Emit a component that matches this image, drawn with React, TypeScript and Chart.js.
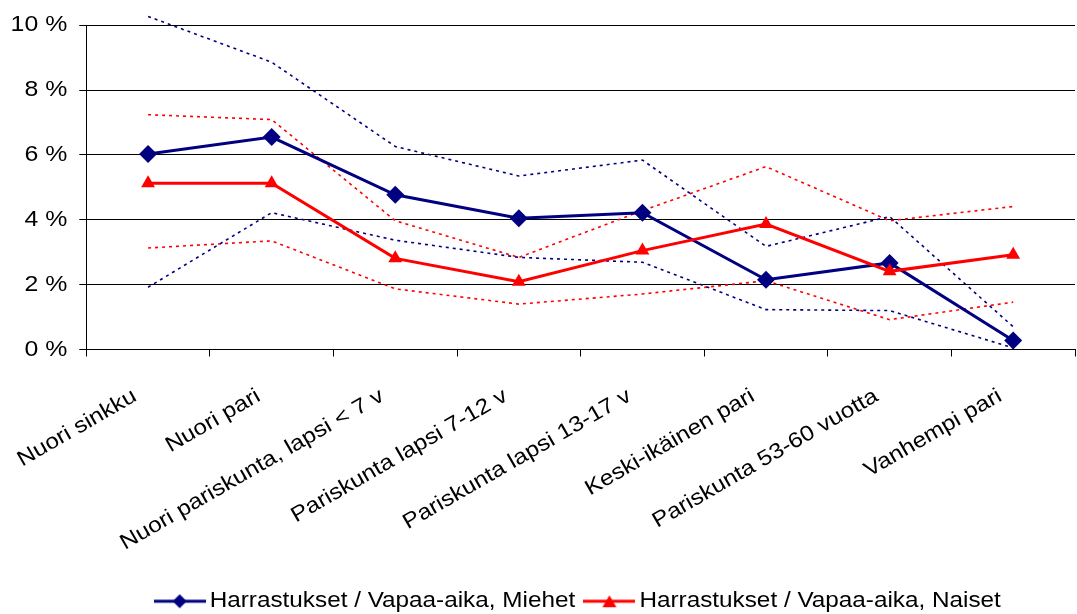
import React, { useEffect, useRef } from "react";
import { Chart, registerables } from "chart.js";

Chart.register(...registerables);

const categories = [
  "Nuori sinkku",
  "Nuori pari",
  "Nuori pariskunta, lapsi < 7 v",
  "Pariskunta lapsi 7-12 v",
  "Pariskunta lapsi 13-17 v",
  "Keski-ikäinen pari",
  "Pariskunta 53-60 vuotta",
  "Vanhempi pari",
];

const miehet = [6.03, 6.55, 4.77, 4.05, 4.22, 2.15, 2.67, 0.28];
const naiset = [5.13, 5.13, 2.81, 2.09, 3.05, 3.87, 2.41, 2.92];
const miehetYla = [10.27, 8.86, 6.26, 5.35, 5.84, 3.18, 4.1, 0.7];
const miehetAla = [1.92, 4.22, 3.37, 2.84, 2.69, 1.23, 1.2, 0.05];
const naisetYla = [7.24, 7.09, 3.97, 2.84, 4.28, 5.64, 3.97, 4.41];
const naisetAla = [3.13, 3.35, 1.87, 1.4, 1.71, 2.12, 0.92, 1.46];

const yTicks = [0, 2, 4, 6, 8, 10];

const labelMiehet = "Harrastukset / Vapaa-aika, Miehet";
const labelNaiset = "Harrastukset / Vapaa-aika, Naiset";

const NAVY = "#000080";
const RED = "#FF0000";
const FONT = "'Liberation Sans', Arial, sans-serif";
const FONT_SIZE = 21.5;
const TEXT_STRETCH = 1.13;

function legendImage(color: string, kind: "diamond" | "triangle") {
  const c = document.createElement("canvas");
  c.width = 52;
  c.height = 18;
  const ctx = c.getContext("2d")!;
  ctx.strokeStyle = color;
  ctx.fillStyle = color;
  ctx.lineWidth = 3;
  ctx.beginPath();
  ctx.moveTo(0, 9);
  ctx.lineTo(52, 9);
  ctx.stroke();
  ctx.beginPath();
  if (kind === "diamond") {
    ctx.moveTo(26, 2);
    ctx.lineTo(33, 9);
    ctx.lineTo(26, 16);
    ctx.lineTo(19, 9);
  } else {
    ctx.moveTo(26, 3);
    ctx.lineTo(33, 15);
    ctx.lineTo(19, 15);
  }
  ctx.closePath();
  ctx.fill();
  return c;
}

function stretchText(ctx: any, k: number) {
  const origFill = ctx.fillText.bind(ctx);
  const origMeasure = ctx.measureText.bind(ctx);
  ctx.fillText = (t: string, x: number, y: number, mw?: number) => {
    ctx.save();
    ctx.translate(x, y);
    ctx.scale(k, 1);
    if (mw !== undefined) origFill(t, 0, 0, mw / k);
    else origFill(t, 0, 0);
    ctx.restore();
  };
  ctx.measureText = (t: string) => {
    const m = origMeasure(t);
    return {
      width: m.width * k,
      actualBoundingBoxAscent: m.actualBoundingBoxAscent,
      actualBoundingBoxDescent: m.actualBoundingBoxDescent,
      actualBoundingBoxLeft: m.actualBoundingBoxLeft * k,
      actualBoundingBoxRight: m.actualBoundingBoxRight * k,
      fontBoundingBoxAscent: m.fontBoundingBoxAscent,
      fontBoundingBoxDescent: m.fontBoundingBoxDescent,
    };
  };
}

export default function App() {
  const ref = useRef<HTMLCanvasElement>(null);

  useEffect(() => {
    if (!ref.current) return;
    const ctx2d = ref.current.getContext("2d");
    stretchText(ctx2d, TEXT_STRETCH);
    const imgM = legendImage(NAVY, "diamond");
    const imgN = legendImage(RED, "triangle");
    const dashed = (data: number[], color: string, order: number) => ({
      label: "",
      data,
      borderColor: color,
      backgroundColor: color,
      borderWidth: 1.6,
      borderDash: [3, 4],
      pointRadius: 0,
      fill: false,
      tension: 0,
      clip: false as const,
      order,
    });
    const chart = new Chart(ref.current, {
      type: "line",
      data: {
        labels: categories,
        datasets: [
          {
            label: labelMiehet,
            data: miehet,
            borderColor: NAVY,
            backgroundColor: NAVY,
            borderWidth: 3,
            pointStyle: "rectRot",
            pointRadius: 9,
            pointBackgroundColor: NAVY,
            pointBorderColor: NAVY,
            pointBorderWidth: 0,
            order: 1,
          },
          {
            label: labelNaiset,
            data: naiset,
            borderColor: RED,
            backgroundColor: RED,
            borderWidth: 3,
            pointStyle: "triangle",
            pointRadius: 8,
            pointBackgroundColor: RED,
            pointBorderColor: RED,
            pointBorderWidth: 0,
            order: 0,
          },
          dashed(miehetYla, NAVY, 2),
          dashed(miehetAla, NAVY, 3),
          dashed(naisetYla, RED, 4),
          dashed(naisetAla, RED, 5),
        ],
      },
      options: {
        responsive: false,
        animation: false,
        devicePixelRatio: 1,
        layout: { padding: { top: 24, left: 0, right: 0, bottom: 0 } },
        plugins: {
          tooltip: { enabled: false },
          legend: {
            position: "bottom",
            fullSize: false,
            labels: {
              usePointStyle: true,
              pointStyleWidth: 38.5,
              color: "#000",
              padding: 15,
              font: { size: FONT_SIZE, family: FONT },
              generateLabels: () => [
                {
                  text: labelMiehet,
                  fillStyle: NAVY,
                  strokeStyle: NAVY,
                  lineWidth: 0,
                  pointStyle: imgM as any,
                  hidden: false,
                  datasetIndex: 0,
                },
                {
                  text: labelNaiset,
                  fillStyle: RED,
                  strokeStyle: RED,
                  lineWidth: 0,
                  pointStyle: imgN as any,
                  hidden: false,
                  datasetIndex: 1,
                },
              ],
            },
          },
        },
        scales: {
          x: {
            type: "category",
            offset: true,
            afterFit: (s: any) => {
              s.height = 226;
            },
            grid: {
              offset: true,
              drawOnChartArea: false,
              color: "#000",
              tickLength: 7,
            },
            border: { color: "#000", width: 1 },
            ticks: {
              autoSkip: false,
              maxRotation: 30,
              minRotation: 30,
              color: "#000",
              padding: 27,
              labelOffset: -13,
              font: { size: FONT_SIZE, family: FONT },
            },
          },
          y: {
            min: 0,
            max: 10,
            afterFit: (s: any) => {
              s.width = 85;
            },
            afterBuildTicks: (s: any) => {
              s.ticks = yTicks.map((v) => ({ value: v }));
            },
            grid: { color: "#000", lineWidth: 1, tickLength: 7 },
            border: { color: "#000", width: 1 },
            ticks: {
              color: "#000",
              padding: 12,
              font: { size: FONT_SIZE + 0.5, family: FONT },
              callback: (v: any) => v + " %",
            },
          },
        },
      },
    });
    return () => chart.destroy();
  }, []);

  return (
    <div
      style={{
        position: "fixed",
        left: 0,
        top: 0,
        width: 1077,
        height: 614,
        overflow: "hidden",
        background: "#fff",
      }}
    >
      <canvas ref={ref} width={1084} height={622} style={{ width: 1084, height: 622, display: "block" }} />
    </div>
  );
}
